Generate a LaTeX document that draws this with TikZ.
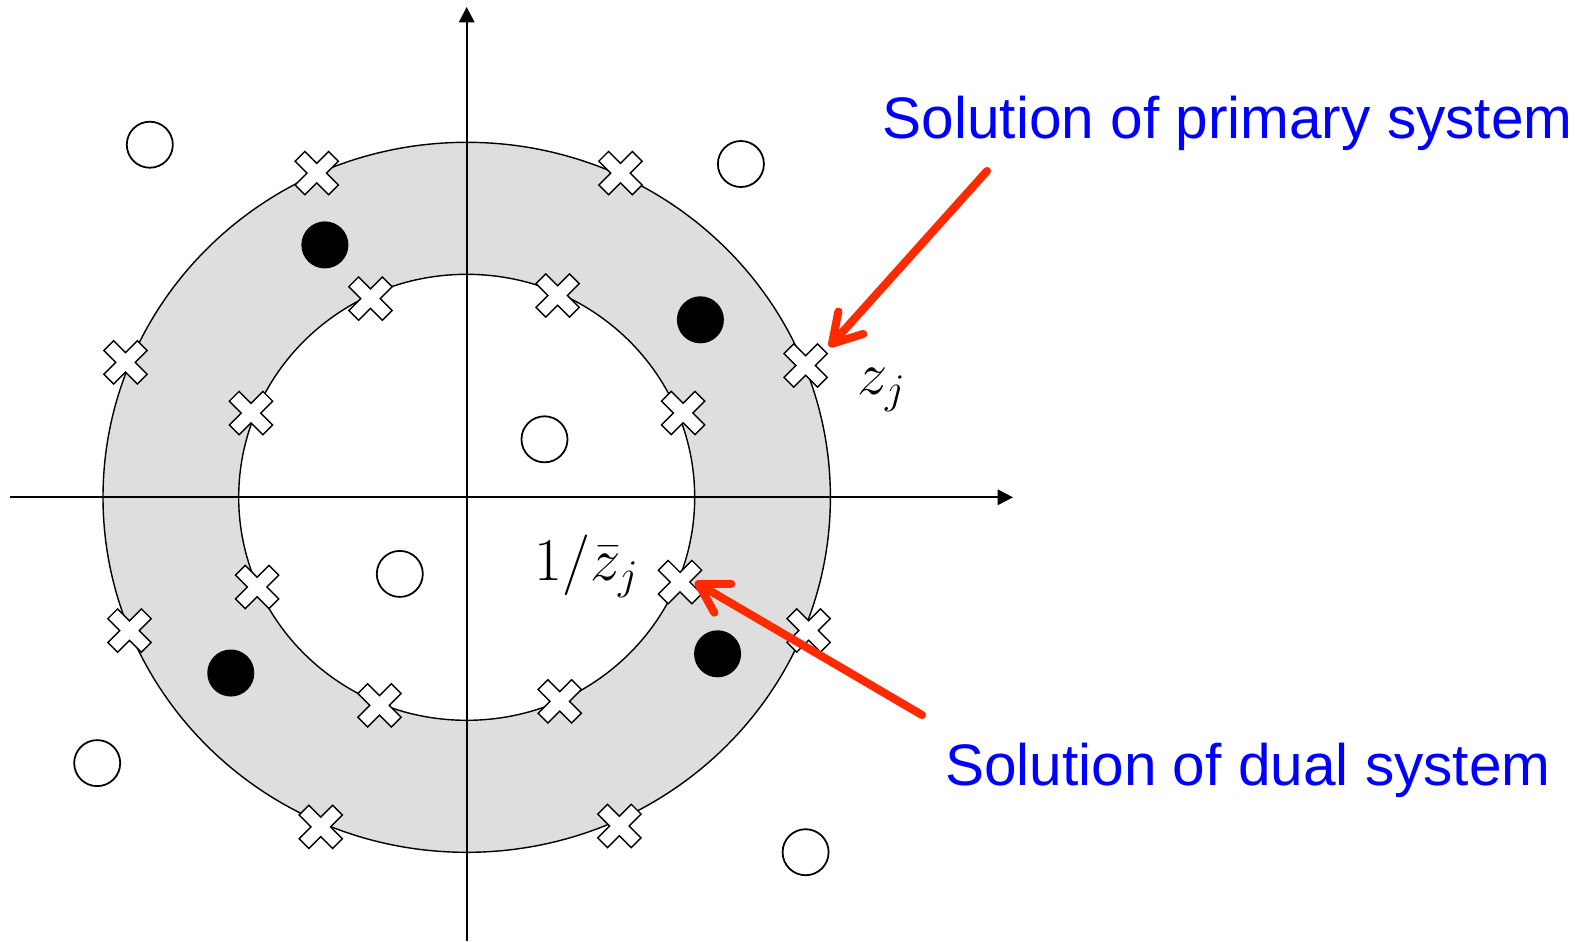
\documentclass[tikz,border=0pt]{standalone}
\usepackage{fontspec}
\newfontfamily\rootsans{Liberation Sans}
\usetikzlibrary{arrows.meta,calc}
\definecolor{rootGray}{HTML}{DEDEDE}
\definecolor{rootRed}{HTML}{FF2A00}
\definecolor{rootBlue}{HTML}{0000FF}
\tikzset{
  root edge/.style={draw=black, line width=0.4pt},
  root axis/.style={draw=black, line width=0.6pt, -{Triangle[length=4.4pt,width=4.4pt]}},
  root open/.style={circle, draw=black, fill=white, line width=0.5pt, minimum size=4.6mm, inner sep=0pt},
  root filled/.style={circle, fill=black, minimum size=4.7mm, inner sep=0pt},
  root arrow/.style={draw=rootRed, line width=2.3pt, line cap=round, -{Straight Barb[length=8pt,width=9.5pt,round]}},
  root label/.style={font=\rootsans\fontsize{16.65}{20}\selectfont, text=rootBlue, inner sep=0pt},
  root math/.style={font=\fontsize{17.28}{20}\selectfont, inner sep=0pt},
  root cross/.pic={
    \draw[root edge, fill=white, rotate=45]
      (23.7,6.9) -- (6.9,6.9) -- (6.9,23.7) -- (-6.9,23.7) -- (-6.9,6.9) -- (-23.7,6.9)
      -- (-23.7,-6.9) -- (-6.9,-6.9) -- (-6.9,-23.7) -- (6.9,-23.7) -- (6.9,-6.9) -- (23.7,-6.9) -- cycle;
  },
}

\begin{document}
\begin{tikzpicture}[x=0.01cm, y=-0.01cm]
  \useasboundingbox (0,0) rectangle (1587,941);
  % Grey band between the two circles
  \coordinate (origin) at (466.7,497.3);
  \draw[root edge, fill=rootGray] (origin) ellipse [x radius=363.7, y radius=355];
  \draw[root edge, fill=white] (origin) ellipse [x radius=228, y radius=223];
  % Axes
  \coordinate (xleft) at (10,497.3);
  \coordinate (xright) at (1013,497.3);
  \coordinate (ybottom) at (466.7,941);
  \coordinate (ytop) at (466.7,7);
  \draw[root axis] (xleft) -- (xright);
  \draw[root axis] (ybottom) -- (ytop);
  % Crosses on the outer circle
  \foreach \x/\y [count=\i] in {316.8/173.1, 620.4/173.1, 125.5/362.3, 805.6/365.4,
      129.5/630.5, 808.7/630.5, 320.8/826.9, 619.4/825.9}
    {\coordinate (outer\i) at (\x,\y); \pic at (outer\i) {root cross};}
  % Crosses on the inner circle
  \foreach \x/\y [count=\i] in {370.4/298.6, 557.7/295.5, 251/413, 683.2/413,
      257.1/587, 680/582, 379.5/705.4, 559.7/701.4}
    {\coordinate (inner\i) at (\x,\y); \pic at (inner\i) {root cross};}
  % Filled and open points
  \foreach \x/\y [count=\i] in {324.9/244.9, 700.4/319.8, 230.8/673, 717.6/653.8}
    \node[root filled] (dot\i) at (\x,\y) {};
  \foreach \x/\y [count=\i] in {149.8/144.7, 740.9/164, 544.5/439.3, 399.8/573.9,
      97.2/763.1, 805.6/852.2}
    \node[root open] (ring\i) at (\x,\y) {};
  % Math labels
  \node[root math, anchor=base west] (zj) at (856.7,394) {$z_j$};
  \node[root math, font=\fontsize{18.4}{22}\selectfont, anchor=base west] (zjinv) at (534,580) {$1/\bar{z}_j$};
  % Blue labels with red pointers
  \node[root label, anchor=base west] (primary) at (882,138.7) {Solution of primary system};
  \node[root label, anchor=base west] (dual) at (944.5,785.4) {Solution of dual system};
  \coordinate (primtail) at (987,171);
  \coordinate (dualtail) at (922,715);
  \draw[root arrow] (primtail) -- ($(outer4)+(23.7,-18.7)$);
  \draw[root arrow] (dualtail) -- ($(inner6)+(15,0)$);
\end{tikzpicture}
\end{document}
